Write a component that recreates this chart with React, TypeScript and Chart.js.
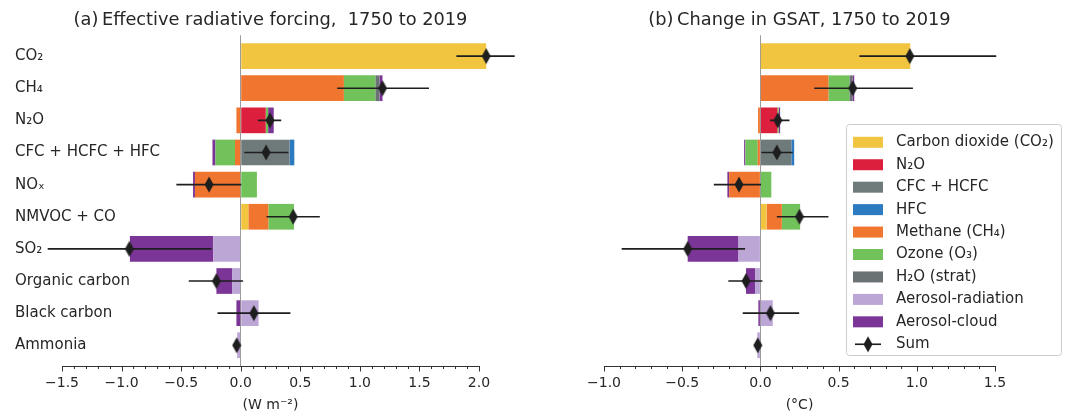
import React, { useEffect, useRef } from 'react';
import { Chart, registerables } from 'chart.js';

Chart.register(...registerables);

const FONT = 'DejaVu Sans';
const TEXT = '#262626';
const INK = '#1e1e1e';

// Rows (top to bottom)
const rowLabels = ['CO₂', 'CH₄', 'N₂O', 'CFC + HCFC + HFC', 'NOₓ', 'NMVOC + CO', 'SO₂', 'Organic carbon', 'Black carbon', 'Ammonia'];

// Components (stacking order from zero outwards)
const componentLabels = ['Carbon dioxide (CO₂)', 'N₂O', 'CFC + HCFC', 'HFC', 'Methane (CH₄)', 'Ozone (O₃)', 'H₂O (strat)', 'Aerosol-radiation', 'Aerosol-cloud'];
const componentColors = ['#F2C541', '#DC1F3C', '#6F7A7B', '#2C7BC0', '#F0752F', '#72C25B', '#6A7273', '#BCA6D6', '#7B3596'];

// (a) Effective radiative forcing, W m-2
const erfCO2 = [2.06, 0, 0, 0, 0, 0.064, 0, 0, 0, 0];
const erfN2O = [0, 0, 0.21, 0, 0, 0, 0, 0, 0, 0];
const erfCFC = [0, 0, 0, 0.41, 0, 0, 0, 0, 0, 0];
const erfHFC = [0, 0, 0, 0.04, 0, 0, 0, 0, 0, 0];
const erfCH4 = [0, 0.866, -0.036, -0.048, -0.384, 0.168, 0, 0, 0, 0];
const erfO3 = [0, 0.264, 0.02, -0.164, 0.136, 0.215, 0, 0, 0, 0];
const erfH2O = [0, 0.035, 0, 0, 0, 0, 0, 0, 0, 0];
const erfAerRad = [0, 0, 0, 0, 0, 0, -0.23, -0.07, 0.15, -0.03];
const erfAerCld = [0, 0.025, 0.047, -0.025, -0.016, 0, -0.70, -0.134, -0.036, 0];
const erfSum = [2.06, 1.19, 0.245, 0.213, -0.266, 0.44, -0.935, -0.204, 0.11, -0.034];
const erfLow: (number | null)[] = [1.81, 0.81, 0.145, 0.03, -0.54, 0.217, -1.62, -0.436, -0.195, null];
const erfHigh: (number | null)[] = [2.30, 1.58, 0.34, 0.40, 0.005, 0.664, -0.245, 0.02, 0.417, null];
const erfTicks = [-1.5, -1.0, -0.5, 0.0, 0.5, 1.0, 1.5, 2.0];

// (b) Change in GSAT, °C
const gsatCO2 = [0.958, 0, 0, 0, 0, 0.04, 0, 0, 0, 0];
const gsatN2O = [0, 0, 0.109, 0, 0, 0, 0, 0, 0, 0];
const gsatCFC = [0, 0, 0, 0.198, 0, 0, 0, 0, 0, 0];
const gsatHFC = [0, 0, 0, 0.018, 0, 0, 0, 0, 0, 0];
const gsatCH4 = [0, 0.435, -0.015, -0.017, -0.2, 0.097, 0, 0, 0, 0];
const gsatO3 = [0, 0.134, 0.008, -0.079, 0.07, 0.117, 0, 0, 0, 0];
const gsatH2O = [0, 0.02, 0, 0, 0, 0, 0, 0, 0, 0];
const gsatAerRad = [0, 0, 0, 0, 0, 0, -0.14, -0.034, 0.079, -0.02];
const gsatAerCld = [0, 0.011, 0.009, -0.008, -0.011, 0, -0.325, -0.058, -0.013, 0];
const gsatSum = [0.955, 0.59, 0.111, 0.105, -0.137, 0.25, -0.465, -0.092, 0.064, -0.017];
const gsatLow: (number | null)[] = [0.633, 0.344, 0.062, 0.006, -0.298, 0.105, -0.887, -0.205, -0.113, null];
const gsatHigh: (number | null)[] = [1.508, 0.975, 0.186, 0.207, 0.004, 0.435, -0.098, 0.013, 0.248, null];
const gsatTicks = [-1.0, -0.5, 0.0, 0.5, 1.0, 1.5];

type Panel = {
  comps: number[][];
  sum: number[];
  low: (number | null)[];
  high: (number | null)[];
  min: number;
  max: number;
  ticks: number[];
  title: string;
  unit: string;
};

const erfPanel: Panel = {
  comps: [erfCO2, erfN2O, erfCFC, erfHFC, erfCH4, erfO3, erfH2O, erfAerRad, erfAerCld],
  sum: erfSum, low: erfLow, high: erfHigh,
  min: -1.5, max: 2.0, ticks: erfTicks,
  title: '(a)\u2009Effective radiative forcing,  1750 to 2019',
  unit: '(W m\u207B\u00B2)',
};

const gsatPanel: Panel = {
  comps: [gsatCO2, gsatN2O, gsatCFC, gsatHFC, gsatCH4, gsatO3, gsatH2O, gsatAerRad, gsatAerCld],
  sum: gsatSum, low: gsatLow, high: gsatHigh,
  min: -1.0, max: 1.5, ticks: gsatTicks,
  title: '(b)\u2009Change in GSAT, 1750 to 2019',
  unit: '(°C)',
};

function fmtTick(v: number) {
  return (v < 0 ? '\u2212' : '') + Math.abs(v).toFixed(1);
}

function makeDiamond(): HTMLCanvasElement {
  const c = document.createElement('canvas');
  c.width = 10;
  c.height = 17;
  const g = c.getContext('2d')!;
  g.fillStyle = INK;
  g.beginPath();
  g.moveTo(5, 0.5);
  g.lineTo(9.5, 8.5);
  g.lineTo(5, 16.5);
  g.lineTo(0.5, 8.5);
  g.closePath();
  g.fill();
  return c;
}

const minorTicksPlugin = {
  id: 'minorTicks',
  afterDraw(chart: any) {
    const s = chart.scales.x;
    const ctx = chart.ctx;
    ctx.save();
    ctx.strokeStyle = '#333333';
    ctx.lineWidth = 1;
    const n = Math.round((s.max - s.min) / 0.1);
    for (let k = 0; k <= n; k++) {
      const v = s.min + k * 0.1;
      const px = Math.round(s.getPixelForValue(v)) + 0.5;
      const major = k % 5 === 0;
      ctx.beginPath();
      ctx.moveTo(px, s.top);
      ctx.lineTo(px, s.top + (major ? 5.5 : 3));
      ctx.stroke();
    }
    ctx.restore();
  },
};

function makeLegendPlugin(diamond: HTMLCanvasElement) {
  return {
    id: 'componentLegend',
    afterDraw(chart: any) {
      const ctx = chart.ctx;
      const bx = 306.5, by = 124.5, bw = 215, bh = 231, r = 3;
      ctx.save();
      ctx.beginPath();
      ctx.moveTo(bx + r, by);
      ctx.lineTo(bx + bw - r, by);
      ctx.quadraticCurveTo(bx + bw, by, bx + bw, by + r);
      ctx.lineTo(bx + bw, by + bh - r);
      ctx.quadraticCurveTo(bx + bw, by + bh, bx + bw - r, by + bh);
      ctx.lineTo(bx + r, by + bh);
      ctx.quadraticCurveTo(bx, by + bh, bx, by + bh - r);
      ctx.lineTo(bx, by + r);
      ctx.quadraticCurveTo(bx, by, bx + r, by);
      ctx.closePath();
      ctx.fillStyle = 'rgba(255,255,255,0.85)';
      ctx.fill();
      ctx.strokeStyle = '#cccccc';
      ctx.lineWidth = 1;
      ctx.stroke();

      const rowY0 = 142.3, step = 22.44;
      const sx = 313, sw = 30, sh = 11, tx = 356;
      ctx.font = `15px "${FONT}"`;
      ctx.textBaseline = 'middle';
      ctx.textAlign = 'left';
      const bars = chart.data.datasets.filter((d: any) => d.type === 'bar');
      bars.forEach((d: any, k: number) => {
        const yy = rowY0 + k * step;
        ctx.fillStyle = d.backgroundColor;
        ctx.fillRect(sx, yy - sh / 2, sw, sh);
        ctx.fillStyle = TEXT;
        ctx.fillText(d.label, tx, yy);
      });
      const yy = rowY0 + bars.length * step;
      ctx.strokeStyle = INK;
      ctx.lineWidth = 1.6;
      ctx.beginPath();
      ctx.moveTo(sx + 2, yy);
      ctx.lineTo(sx + sw - 2, yy);
      ctx.stroke();
      ctx.drawImage(diamond, sx + sw / 2 - diamond.width / 2, yy - diamond.height / 2);
      ctx.fillStyle = TEXT;
      ctx.fillText('Sum', tx, yy);
      ctx.restore();
    },
  };
}

function buildConfig(p: Panel, withLabels: boolean, withLegend: boolean, diamond: HTMLCanvasElement) {
  const labelBox = 47;
  const bars = p.comps.map((vals, k) => ({
    type: 'bar',
    label: componentLabels[k],
    data: vals.map((v, i) => ({ x: v === 0 ? null : v, y: i })),
    backgroundColor: componentColors[k],
    borderWidth: 0,
    stack: 'parts',
    barPercentage: 0.8,
    categoryPercentage: 1,
    clip: false,
    order: 0,
  }));

  const errData: { x: number | null; y: number | null }[] = [];
  p.low.forEach((lo, i) => {
    const hi = p.high[i];
    if (lo !== null && hi !== null) {
      errData.push({ x: lo, y: i }, { x: hi, y: i });
    }
    errData.push({ x: null, y: null });
  });

  const err = {
    type: 'scatter',
    label: 'range',
    data: errData,
    showLine: true,
    spanGaps: false,
    borderColor: INK,
    borderWidth: 1.6,
    pointRadius: 0,
    pointHoverRadius: 0,
    clip: false,
    order: -1,
  };

  const sum = {
    type: 'scatter',
    label: 'Sum',
    data: p.sum.map((v, i) => ({ x: v, y: i })),
    pointStyle: diamond,
    pointRadius: 8,
    clip: false,
    order: -2,
  };

  const plugins: any[] = [minorTicksPlugin];
  if (withLegend) plugins.push(makeLegendPlugin(diamond));

  return {
    type: 'bar',
    data: { datasets: [...bars, err, sum] },
    plugins,
    options: {
      indexAxis: 'y',
      responsive: false,
      animation: false,
      events: [],
      layout: { padding: { left: withLabels ? 15 : 64, right: withLabels ? 61 : 70, top: 0, bottom: 0 } },
      plugins: {
        legend: { display: false },
        tooltip: { enabled: false },
        title: {
          display: true,
          text: p.title,
          fullSize: false,
          color: TEXT,
          font: { family: FONT, size: 17.8, weight: 'normal' },
          padding: { top: 9.5, bottom: 4.5 },
        },
      },
      scales: {
        x: {
          type: 'linear',
          min: p.min,
          max: p.max,
          offset: false,
          beginAtZero: false,
          afterBuildTicks: (s: any) => {
            s.ticks = p.ticks.map((v) => ({ value: v }));
          },
          afterFit: (s: any) => {
            s.height = 48;
          },
          ticks: {
            autoSkip: false,
            maxRotation: 0,
            padding: 9,
            color: TEXT,
            font: { family: FONT, size: 14 },
            callback: (v: any) => fmtTick(Number(v)),
          },
          grid: {
            drawTicks: false,
            lineWidth: 1,
            color: (c: any) => (c.tick && Math.abs(c.tick.value) < 1e-9 ? '#9a9a9a' : 'rgba(0,0,0,0)'),
          },
          border: { display: true, color: '#333333', width: 1 },
          title: {
            display: true,
            text: p.unit,
            color: TEXT,
            font: { family: FONT, size: 14 },
            padding: 0,
          },
        },
        y: {
          type: 'linear',
          min: -0.645,
          max: 9.645,
          reverse: true,
          offset: false,
          display: withLabels,
          afterBuildTicks: (s: any) => {
            s.ticks = rowLabels.map((_, i) => ({ value: i }));
          },
          afterFit: (s: any) => {
            s.width = withLabels ? labelBox : 0;
          },
          grid: { display: false, drawTicks: false, offset: false },
          border: { display: false },
          ticks: {
            autoSkip: false,
            mirror: true,
            crossAlign: 'near',
            padding: -labelBox,
            color: TEXT,
            font: { family: FONT, size: 15 },
            callback: (v: any) => rowLabels[Number(v)] ?? '',
          },
        },
      },
    },
  };
}

export default function App() {
  const leftRef = useRef<HTMLCanvasElement>(null);
  const rightRef = useRef<HTMLCanvasElement>(null);

  useEffect(() => {
    Chart.defaults.font.family = FONT;
    const diamond = makeDiamond();
    const a = new Chart(leftRef.current!, buildConfig(erfPanel, true, false, diamond) as any);
    const b = new Chart(rightRef.current!, buildConfig(gsatPanel, false, true, diamond) as any);
    return () => {
      a.destroy();
      b.destroy();
    };
  }, []);

  return (
    <div style={{ position: 'absolute', left: 0, top: 0, width: 1065, height: 414, background: '#ffffff' }}>
      <canvas ref={leftRef} width={540} height={414} style={{ position: 'absolute', left: 0, top: 0, width: 540, height: 414 }} />
      <canvas ref={rightRef} width={525} height={414} style={{ position: 'absolute', left: 540, top: 0, width: 525, height: 414 }} />
    </div>
  );
}
